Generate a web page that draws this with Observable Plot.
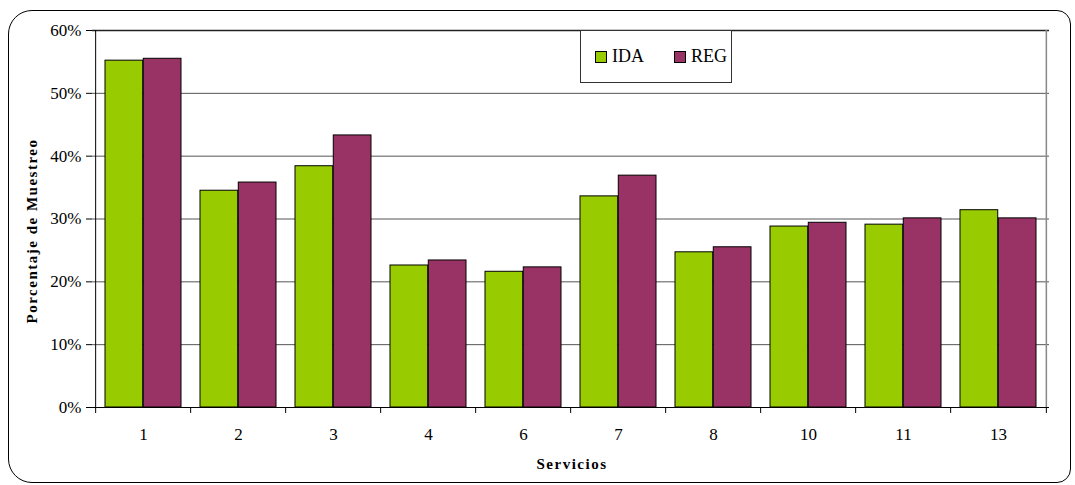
<!DOCTYPE html>
<html><head><meta charset="utf-8">
<script src="https://cdn.jsdelivr.net/npm/d3@7"></script>
<script src="https://cdn.jsdelivr.net/npm/@observablehq/plot@0.6"></script>
<style>
body{margin:0;background:#fff;font-family:"Liberation Serif","Times New Roman",serif;}
#wrap{position:relative;width:1075px;height:485px;overflow:hidden;background:#fff}
#frame{position:absolute;left:8px;top:10px;width:1061px;height:471px;border:1px solid #000;border-radius:24px 14px 14px 24px;pointer-events:none}
#chart{position:absolute;left:0;top:0}
#chart svg, #chart svg text{font-family:"Liberation Serif","Times New Roman",serif !important}
#legend{position:absolute;left:580px;top:30px;width:152px;height:53px;border:1px solid #333;background:#fff;box-sizing:border-box;display:flex;align-items:center;padding-left:14px;font-size:18px;color:#000}
#legend .item{display:flex;align-items:center;margin-right:30px}
#legend .sw{width:10px;height:10px;border:1px solid #000;margin-right:5px}
</style></head>
<body>
<div id="wrap"><div id="chart"></div><div id="frame"></div><div id="legend"></div></div>
<script>
const services = ["1","2","3","4","6","7","8","10","11","13"];
const seriesNames = ["IDA","REG"];
const seriesColors = ["#99CC00","#993366"];
const idaValues = [0.552,0.345,0.384,0.226,0.216,0.336,0.247,0.288,0.291,0.314];
const regValues = [0.555,0.358,0.433,0.234,0.223,0.369,0.255,0.294,0.301,0.301];
const yTicks = [0,0.1,0.2,0.3,0.4,0.5,0.6];
const yTitle = "Porcentaje de Muestreo";
const xTitle = "Servicios";

const W = 1075, H = 485, ML = 92, MR = 26, MT = 30, MB = 78;
const step = (W - ML - MR) / services.length;
const half = step * 0.8 / 2;
const yMax = yTicks[yTicks.length-1];

const ida = services.map((s,i)=>({service:s, value:idaValues[i]}));
const reg = services.map((s,i)=>({service:s, value:regValues[i]}));
const first = services.slice(0,1), last = services.slice(-1);

const chart = Plot.plot({
  width: W, height: H,
  marginLeft: ML, marginRight: MR, marginTop: MT, marginBottom: MB,
  style: {fontFamily: "'Liberation Serif', 'Times New Roman', serif", fontSize: "17px", color: "#000", background: "transparent"},
  x: {type: "band", domain: services, paddingInner: 0.2, paddingOuter: 0.1},
  y: {domain: [0, yMax]},
  marks: [
    Plot.ruleY(yTicks.slice(1, -1), {y: d=>d, stroke: "#555", strokeWidth: 1}),
    Plot.ruleY([yMax], {y: d=>d, stroke: "#222", strokeWidth: 1.5}),
    Plot.ruleX(last, {x: d=>d, y1: 0, y2: yMax, dx: step/2, stroke: "#888", strokeWidth: 1.5}),
    Plot.barY(ida, {x: "service", y: "value", fill: seriesColors[0], stroke: "#000", strokeWidth: 1, insetRight: half}),
    Plot.barY(reg, {x: "service", y: "value", fill: seriesColors[1], stroke: "#000", strokeWidth: 1, insetLeft: half}),
    Plot.ruleY([0], {stroke: "#000", strokeWidth: 1}),
    Plot.ruleX(services, {x: d=>d, y1: 0, y2: 0, dx: -step/2, insetBottom: -6, stroke: "#000"}),
    Plot.ruleX(last, {x: d=>d, y1: 0, y2: 0, dx: step/2, insetBottom: -6, stroke: "#000"}),
    Plot.axisY({ticks: yTicks, tickFormat: d3.format(".0%"), tickSize: 6, tickPadding: 5, label: null, fontSize: 17}),
    Plot.ruleX(first, {x: d=>d, y1: 0, y2: yMax, dx: -step/2, stroke: "#000", strokeWidth: 1}),
    Plot.axisX({tickSize: 0, tickPadding: 20, label: null, fontSize: 17}),
    Plot.text([yTitle], {frameAnchor: "left", textAnchor: "middle", text: d=>d, rotate: -90, dx: -60, dy: 12, fontWeight: "bold", fontSize: 15, className: "ttl"}),
    Plot.text([xTitle], {frameAnchor: "bottom", textAnchor: "middle", text: d=>d, dy: 61, dx: 1, fontWeight: "bold", fontSize: 15, className: "ttl"})
  ]
});
d3.select(chart).selectAll(".ttl text").attr("letter-spacing", "1.5px");
document.getElementById("chart").appendChild(chart);

const lg = d3.select("#legend");
seriesNames.forEach((n,i)=>{
  const it = lg.append("div").attr("class","item");
  it.append("div").attr("class","sw").style("background", seriesColors[i]);
  it.append("span").text(n);
});
</script>
</body></html>
